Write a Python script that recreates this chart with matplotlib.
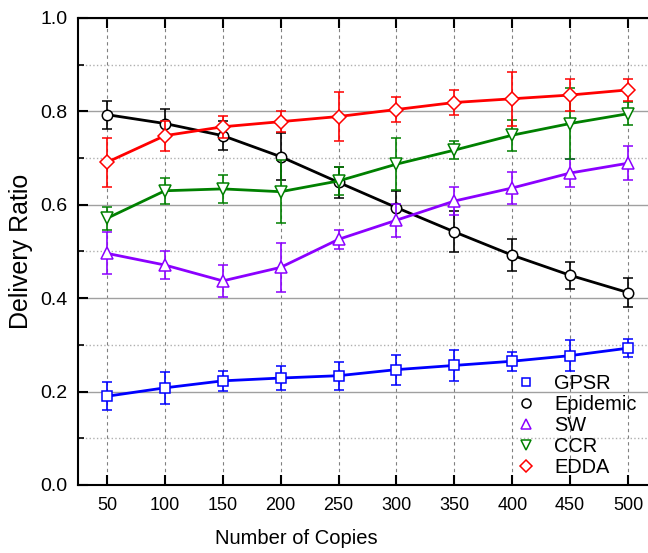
import matplotlib.pyplot as plt
from matplotlib.lines import Line2D
from matplotlib.ticker import MultipleLocator

plt.rcParams['font.family'] = ['Liberation Sans', 'DejaVu Sans']

# numero de copias
copies = [50, 100, 150, 200, 250, 300, 350, 400, 450, 500]

# delivery ratio y error de cada protocolo
gpsr = [0.190, 0.208, 0.223, 0.229, 0.234, 0.247, 0.256, 0.265, 0.277, 0.293]
gpsr_err = [0.030, 0.034, 0.021, 0.025, 0.030, 0.032, 0.034, 0.020, 0.033, 0.020]

epidemic = [0.793, 0.774, 0.748, 0.703, 0.648, 0.594, 0.542, 0.492, 0.449, 0.412]
epidemic_err = [0.030, 0.031, 0.031, 0.050, 0.033, 0.036, 0.044, 0.034, 0.029, 0.031]

sw = [0.496, 0.471, 0.437, 0.466, 0.526, 0.567, 0.608, 0.636, 0.668, 0.689]
sw_err = [0.045, 0.030, 0.034, 0.052, 0.020, 0.035, 0.030, 0.035, 0.030, 0.036]

ccr = [0.571, 0.630, 0.634, 0.628, 0.651, 0.687, 0.717, 0.749, 0.774, 0.795]
ccr_err = [0.025, 0.028, 0.030, 0.067, 0.030, 0.055, 0.020, 0.033, 0.077, 0.025]

edda = [0.691, 0.748, 0.767, 0.778, 0.789, 0.804, 0.819, 0.827, 0.835, 0.846]
edda_err = [0.052, 0.032, 0.023, 0.023, 0.053, 0.026, 0.027, 0.058, 0.034, 0.024]

names = ['GPSR', 'Epidemic', 'SW', 'CCR', 'EDDA']
series = [gpsr, epidemic, sw, ccr, edda]
errors = [gpsr_err, epidemic_err, sw_err, ccr_err, edda_err]
colors = ['#0000ff', '#000000', '#8b00ff', '#008000', '#ff0000']
markers = ['s', 'o', '^', 'v', 'D']
msizes = [6.5, 7.5, 8.5, 8.5, 7]

fig = plt.figure(figsize=(6.48, 5.53), dpi=100)
ax = fig.add_axes([0.1204, 0.123, 0.8935, 0.8445])

# rejilla
ax.yaxis.set_major_locator(MultipleLocator(0.2))
ax.yaxis.set_minor_locator(MultipleLocator(0.1))
ax.grid(axis='y', which='major', color='#a0a0a0', linestyle='-', linewidth=1)
ax.grid(axis='y', which='minor', color='#b0b0b0', linestyle=':', linewidth=1)
ax.grid(axis='x', which='major', color='#808080', linestyle=(0, (3, 3)), linewidth=0.8)
ax.set_axisbelow(True)

# Orden de dibujo: de abajo hacia arriba
for i in [0, 2, 1, 3, 4]:
    ax.errorbar(copies, series[i], yerr=errors[i], color=colors[i], marker=markers[i],
                markersize=msizes[i], markerfacecolor='white', markeredgecolor=colors[i],
                markeredgewidth=1.1, linewidth=2, elinewidth=1.2, capsize=3.5, capthick=1.2,
                zorder=3 + i)

ax.set_xlim(25, 525)
ax.set_ylim(0, 1.0)
ax.set_xticks(copies)
ax.set_yticks([0.0, 0.2, 0.4, 0.6, 0.8, 1.0])
ax.set_yticklabels(['0.0', '0.2', '0.4', '0.6', '0.8', '1.0'])

ax.tick_params(axis='both', which='both', direction='in')
ax.tick_params(axis='x', which='major', top=True, length=7, width=1.5, pad=8.5, labelsize=13)
ax.tick_params(axis='y', which='major', length=7, width=1.5, pad=7.5, labelsize=14)
ax.tick_params(axis='y', which='minor', length=4, width=1.2)
ax.spines['right'].set_visible(False)
for s in ['left', 'bottom', 'top']:
    ax.spines[s].set_linewidth(1.5)

ax.set_xlabel('Number of Copies', fontsize=14.5, labelpad=12)
ax.xaxis.set_label_coords(0.3765, -0.095)
ax.set_ylabel('Delivery Ratio', fontsize=18, labelpad=5)

# leyenda solo con marcadores
handles = [Line2D([], [], linestyle='none', marker=markers[i], markersize=msizes[i] - 1,
                  markerfacecolor='white', markeredgecolor=colors[i], markeredgewidth=1.1)
           for i in range(5)]
ax.legend(handles, names, loc='lower left', bbox_to_anchor=(0.734, 0.0), frameon=False,
          fontsize=14.4, handlelength=1.5, handletextpad=0.65, labelspacing=0.1,
          borderaxespad=0)

fig.savefig('out.png', dpi=100)
